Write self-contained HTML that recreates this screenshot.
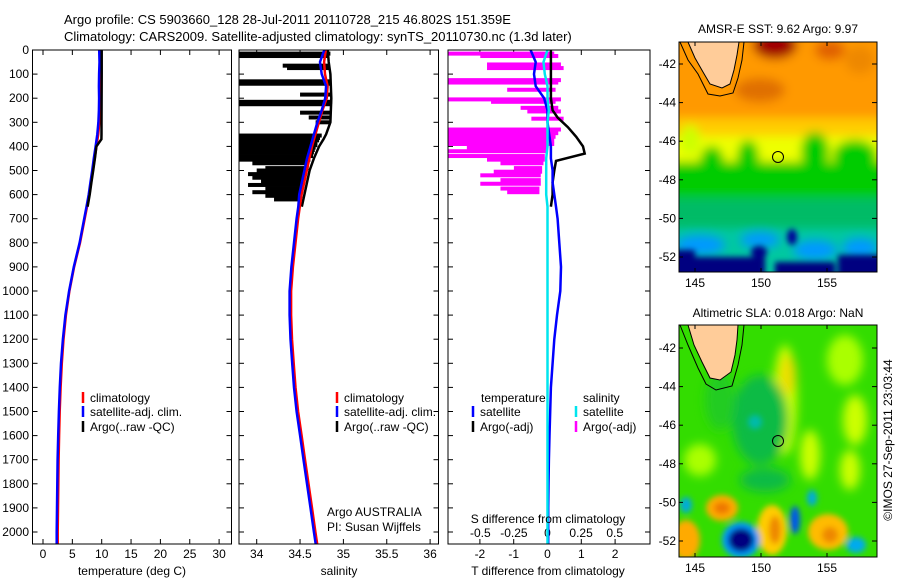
<!DOCTYPE html>
<html><head><meta charset="utf-8">
<style>
html,body{margin:0;padding:0;background:#fff;}
svg{display:block;font-family:"Liberation Sans",sans-serif;}
text{font-size:12px;fill:#000;}
</style></head>
<body>
<svg id="fig" width="900" height="580" viewBox="0 0 900 580" xmlns="http://www.w3.org/2000/svg">
<defs>
  <filter id="blur" x="-20%" y="-20%" width="140%" height="140%"><feGaussianBlur stdDeviation="5"/></filter>
  <filter id="blur2" x="-20%" y="-20%" width="140%" height="140%"><feGaussianBlur stdDeviation="3"/></filter>
  <clipPath id="clipTop"><rect x="679" y="42" width="198" height="230"/></clipPath>
  <clipPath id="clipBot"><rect x="679" y="325" width="198" height="232"/></clipPath>
  <clipPath id="clipP2"><rect x="239" y="50" width="200" height="494"/></clipPath>
  <clipPath id="clipP3"><rect x="448" y="50" width="202" height="494"/></clipPath>
</defs>
<text x="64" y="24" style="font-size:13px">Argo profile: CS 5903660_128 28-Jul-2011 20110728_215 46.802S 151.359E</text>
<text x="64" y="41" style="font-size:13px">Climatology: CARS2009. Satellite-adjusted climatology: synTS_20110730.nc (1.3d later)</text>

<!-- SST map -->
<g clip-path="url(#clipTop)">
  <rect x="679" y="42" width="198" height="230" fill="#00c8a0"/>
  <g filter="url(#blur)">
    <rect x="660" y="20" width="240" height="120" fill="#ff9900"/>
    <ellipse cx="775" cy="45" rx="22" ry="14" fill="#a00000"/>
    <ellipse cx="830" cy="50" rx="15" ry="10" fill="#e06000"/>
    <ellipse cx="760" cy="90" rx="25" ry="12" fill="#e07000"/>
    <ellipse cx="860" cy="60" rx="15" ry="14" fill="#ee8800"/>
    <rect x="660" y="118" width="240" height="20" fill="#ffcc00"/>
    <rect x="660" y="136" width="240" height="30" fill="#eeff00"/>
    <rect x="660" y="162" width="240" height="40" fill="#00cc00"/>
    <ellipse cx="712" cy="162" rx="12" ry="16" fill="#00cc00"/>
    <ellipse cx="748" cy="158" rx="11" ry="18" fill="#00cc00"/>
    <ellipse cx="815" cy="152" rx="14" ry="20" fill="#00cc00"/>
    <ellipse cx="855" cy="156" rx="22" ry="16" fill="#00cc00"/>
    <ellipse cx="690" cy="140" rx="10" ry="15" fill="#ccff00"/>
    <rect x="660" y="198" width="240" height="30" fill="#00bb66"/>
    <ellipse cx="700" cy="245" rx="25" ry="10" fill="#0099ff"/>
    <ellipse cx="760" cy="240" rx="20" ry="8" fill="#0099ff"/>
    <ellipse cx="815" cy="250" rx="22" ry="10" fill="#0099ff"/>
    <ellipse cx="860" cy="248" rx="18" ry="10" fill="#0099ff"/>
  </g>
  <g filter="url(#blur2)">
    <rect x="660" y="257" width="105" height="25" fill="#000080"/>
    <rect x="660" y="250" width="35" height="12" fill="#000080"/>
    <rect x="775" y="262" width="60" height="15" fill="#000080"/>
    <rect x="838" y="255" width="50" height="25" fill="#000080"/>
    <ellipse cx="759" cy="252" rx="8" ry="6" fill="#000088"/>
    <ellipse cx="792" cy="237" rx="5" ry="8" fill="#000099"/>
  </g>
  <path d="M680,42 L688,60 L698,74 L708,94 L720,96 L733,93 L738,78 L742,60 L744,42 Z" fill="none" stroke="#000" stroke-width="1"/>
  <path d="M688,42 L695,58 L703,72 L710,84 L722,88 L730,84 L734,70 L737,55 L739,42 Z" fill="#ffcc99" stroke="#000" stroke-width="1"/>
  <circle cx="778" cy="157" r="5.5" fill="none" stroke="#000" stroke-width="1"/>
</g>
<rect x="679" y="42" width="198" height="230" fill="none" stroke="#000"/>
<text x="778" y="33" text-anchor="middle">AMSR-E SST: 9.62 Argo: 9.97</text>

<!-- SLA map -->
<g clip-path="url(#clipBot)">
  <rect x="679" y="325" width="198" height="232" fill="#33dd00"/>
  <g filter="url(#blur)">
    <ellipse cx="785" cy="400" rx="12" ry="55" fill="#ccff00"/>
    <ellipse cx="788" cy="375" rx="8" ry="20" fill="#eedd00"/>
    <ellipse cx="845" cy="360" rx="18" ry="25" fill="#aaff00"/>
    <ellipse cx="855" cy="420" rx="12" ry="25" fill="#ccff00"/>
    <ellipse cx="700" cy="460" rx="16" ry="16" fill="#aaff00"/>
    <ellipse cx="810" cy="455" rx="10" ry="25" fill="#ccff00"/>
    <ellipse cx="850" cy="470" rx="10" ry="20" fill="#ccff00"/>
    <ellipse cx="760" cy="420" rx="28" ry="45" fill="#11bb44"/>
    <ellipse cx="720" cy="400" rx="15" ry="30" fill="#22cc22"/>
    <ellipse cx="765" cy="480" rx="25" ry="12" fill="#11bb44"/>
  </g>
  <g filter="url(#blur2)">
    <ellipse cx="722" cy="508" rx="16" ry="13" fill="#ffaa00"/>
    <ellipse cx="722" cy="508" rx="8" ry="6" fill="#ee7700"/>
    <ellipse cx="772" cy="530" rx="15" ry="25" fill="#ffcc00"/>
    <ellipse cx="775" cy="530" rx="6" ry="14" fill="#ee8800"/>
    <ellipse cx="828" cy="532" rx="20" ry="18" fill="#ffbb00"/>
    <ellipse cx="830" cy="535" rx="8" ry="8" fill="#ee8800"/>
    <ellipse cx="686" cy="540" rx="14" ry="20" fill="#ffaa00"/>
    <ellipse cx="741" cy="540" rx="19" ry="18" fill="#0099ff"/>
    <ellipse cx="741" cy="540" rx="13" ry="12" fill="#000080"/>
    <ellipse cx="795" cy="520" rx="5" ry="14" fill="#0055ee"/>
    <ellipse cx="812" cy="498" rx="5" ry="8" fill="#00aadd"/>
    <ellipse cx="686" cy="505" rx="6" ry="8" fill="#00aadd"/>
    <ellipse cx="755" cy="422" rx="7" ry="7" fill="#00bbaa"/>
    <ellipse cx="856" cy="545" rx="10" ry="8" fill="#00aaee"/>
  </g>
  <path d="M680,325 L688,345 L698,368 L706,384 L716,390 L732,386 L738,365 L742,345 L744,325 Z" fill="none" stroke="#000" stroke-width="1"/>
  <path d="M688,325 L694,345 L702,362 L710,378 L720,380 L731,372 L735,355 L737,340 L738,325 Z" fill="#ffcc99" stroke="#000" stroke-width="1"/>
  <circle cx="778" cy="441" r="5.5" fill="none" stroke="#000" stroke-width="1"/>
</g>
<rect x="679" y="325" width="198" height="232" fill="none" stroke="#000"/>
<text x="778" y="317" text-anchor="middle">Altimetric SLA: 0.018 Argo: NaN</text>
<text transform="translate(892,440) rotate(-90)" text-anchor="middle">©IMOS 27-Sep-2011 23:03:44</text>

<g id="plots"></g>
</svg>
<script>
// ---------- data ----------
const depths = [0,50,100,150,200,250,300,350,400,450,500,550,600,650,700,800,900,1000,1100,1200,1300,1400,1500,1600,1700,1800,1900,2000,2050];
const climT = [9.9,9.9,9.85,9.8,9.75,9.7,9.6,9.4,9.1,8.8,8.5,8.2,7.9,7.5,7.1,6.3,5.3,4.5,3.9,3.5,3.2,3.0,2.85,2.75,2.65,2.6,2.55,2.5,2.5];
const climS = [34.78,34.76,34.77,34.8,34.79,34.74,34.7,34.66,34.62,34.59,34.56,34.53,34.5,34.48,34.46,34.43,34.4,34.38,34.38,34.39,34.41,34.43,34.46,34.5,34.54,34.58,34.62,34.66,34.68];
const satTdiff = [-0.5,-0.35,-0.4,-0.35,-0.1,0.0,0.0,0.05,0.1,0.1,0.15,0.15,0.2,0.25,0.3,0.35,0.4,0.38,0.28,0.2,0.15,0.1,0.08,0.06,0.04,0.03,0.02,0.02,0.02];
const satSdiff = [0.0,-0.03,-0.02,0.0,0.0,0.01,0.0,0.0,0.0,-0.01,-0.01,-0.01,-0.01,0.0,0.0,0.0,0.0,0.0,0,0,0,0,0,0,0,0,0,0,0];
const argoDepth = [0,50,100,200,300,350,370,400,450,500,550,600,650];
const argoT = [10.0,10.0,10.0,9.98,9.97,9.96,9.95,9.1,8.85,8.55,8.25,7.95,7.6];
const argoS = [34.82,34.83,34.85,34.86,34.85,34.8,34.77,34.72,34.66,34.61,34.58,34.55,34.52];
const argoDiffDepth = [0,50,100,200,250,280,320,360,400,430,460,500,550,600,650];
const argoTdiff = [0.1,0.1,0.1,0.1,0.15,0.3,0.6,0.85,1.05,1.1,0.25,0.2,0.15,0.15,0.1];
const salBarDepth = [15,25,65,75,130,140,185,215,225,260,280,300,355,365,375,385,395,405,415,425,440,455,470,490,500,515,530,545,560,575,590,605,620];
const salBarLow = [33.7,33.7,34.3,34.35,33.7,33.7,34.5,33.7,33.7,34.5,34.6,34.68,33.7,33.7,33.7,33.7,33.7,33.7,33.7,33.7,33.7,33.7,33.95,34.1,34.0,33.9,33.95,34.05,33.9,34.1,33.95,34.1,34.2];
const salBarHigh = [34.85,34.82,34.83,34.85,34.86,34.85,34.86,34.87,34.86,34.86,34.85,34.84,34.75,34.73,34.72,34.7,34.7,34.68,34.67,34.66,34.65,34.62,34.6,34.6,34.58,34.58,34.56,34.55,34.55,34.53,34.53,34.5,34.5];
const magBarDepth = [15,25,60,75,125,135,165,205,215,240,255,285,330,345,360,375,390,405,420,440,455,470,490,505,520,540,555,575,590];
const magBarLow = [-0.8,-0.5,-0.45,-0.45,-0.8,-0.8,-0.3,-0.8,-0.42,-0.2,-0.15,-0.12,-0.8,-0.8,-0.8,-0.8,-0.8,-0.6,-0.8,-0.8,-0.45,-0.35,-0.25,-0.4,-0.5,-0.35,-0.5,-0.35,-0.3];
const magBarHigh = [0.05,0.08,0.1,0.12,0.1,0.08,0.06,0.1,0.06,0.08,0.1,0.12,0.1,0.08,0.06,0.05,0.05,0.0,0.0,-0.02,-0.02,-0.03,-0.04,-0.04,-0.05,-0.05,-0.05,-0.06,-0.06];
const depthTicks = [0,100,200,300,400,500,600,700,800,900,1000,1100,1200,1300,1400,1500,1600,1700,1800,1900,2000];
const tempTicks = [0,5,10,15,20,25,30];
const salTicks = [34,34.5,35,35.5,36];
const tdiffTicks = [-2,-1,0,1,2];
const sdiffTicks = [-0.5,-0.25,0,0.25,0.5];
const latTicks = [-42,-44,-46,-48,-50,-52];
const lonTicks = [145,150,155];

// ---------- scales ----------
const yD = d => 50 + d*0.241;
const xT = t => 43 + t*5.87;
const xS = s => 256.7 + (s-34)*86.7;
const xTd = t => 547.5 + t*33.8;
const xSd = s => 547.5 + s*134.4;
const latTop = v => 64 + (-42 - v)*19.3;
const latBot = v => 348 + (-42 - v)*19.3;
const lonX = v => 695 + (v-145)*13.2;

const NS='http://www.w3.org/2000/svg';
const root=document.getElementById('plots');
function mk(tag,attrs,parent){const e=document.createElementNS(NS,tag);for(const k in attrs)e.setAttribute(k,attrs[k]);(parent||root).appendChild(e);return e;}
function txt(x,y,s,anchor,parent){const e=mk('text',{x:x,y:y,'text-anchor':anchor||'start'},parent);e.textContent=s;return e;}
function poly(xs,ys,color,w,parent,dash){const pts=xs.map((x,i)=>x.toFixed(1)+','+ys[i].toFixed(1)).join(' ');const a={points:pts,fill:'none',stroke:color,'stroke-width':w};if(dash)a['stroke-dasharray']=dash;return mk('polyline',a,parent);}

const panels=[{x0:32.5,x1:231.5,n:'temperature-panel'},{x0:239,x1:438.5,n:'salinity-panel'},{x0:448,x1:650,n:'difference-panel'}];
const pg=[];
panels.forEach(p=>{
  const g=mk('g',{});
  
  
  pg.push(g);
  depthTicks.forEach(d=>{
    const y=yD(d);
    mk('line',{x1:p.x0,y1:y,x2:p.x0+5,y2:y,stroke:'#000'},g);
    mk('line',{x1:p.x1-5,y1:y,x2:p.x1,y2:y,stroke:'#000'},g);
  });
});
depthTicks.forEach(d=>{
  const t=txt(29,yD(d)+4,String(d),'end');
  
  
});
function xticks(g,vals,fx,ytxt){
  vals.forEach(v=>{const x=fx(v);
    mk('line',{x1:x,y1:50,x2:x,y2:55,stroke:'#000'},g);
    mk('line',{x1:x,y1:539,x2:x,y2:544,stroke:'#000'},g);
    if(ytxt){const t=txt(x,ytxt,String(v),'middle',g);
      
      }
  });
}
xticks(pg[0],tempTicks,xT,558);
xticks(pg[1],salTicks,xS,558);
xticks(pg[2],tdiffTicks,xTd,558);
sdiffTicks.forEach(v=>{const t=txt(xSd(v),537,String(v),'middle',pg[2]);
  
  });

const LW=2.5;
const satT = climT.map((t,i)=>t+satTdiff[i]*0.3);
let l;
l=poly(climT.map(xT),depths.map(yD),'#ff0000',LW,pg[0]);


l=poly(satT.map(v=>xT(v)-1),depths.map(yD),'#0000ff',LW,pg[0]);


l=poly(argoT.map(xT),argoDepth.map(yD),'#000',LW,pg[0]);



const g2=mk('g',{'clip-path':'url(#clipP2)'},pg[1]);
salBarDepth.forEach((d,i)=>{
  const x0=xS(salBarLow[i]),x1=xS(salBarHigh[i]);
  const r=mk('rect',{x:x0,y:yD(d)-2,width:x1-x0,height:4,fill:'#000'},g2);
  
  
});
l=poly(argoS.map(xS),argoDepth.map(yD),'#000',LW,g2);


l=poly(climS.map(v=>xS(v)+1.5),depths.map(yD),'#ff0000',LW,g2);


l=poly(climS.map((v,i)=>xS(v+satSdiff[i])),depths.map(yD),'#0000ff',LW,g2);



const g3=mk('g',{'clip-path':'url(#clipP3)'},pg[2]);
magBarDepth.forEach((d,i)=>{
  const x0=xSd(magBarLow[i]),x1=xSd(magBarHigh[i]);
  const r=mk('rect',{x:x0,y:yD(d)-2,width:x1-x0,height:4,fill:'#ff00ff'},g3);
  
  
});
l=poly([xTd(0),xTd(0)],[yD(650),yD(2050)],'#000',1,g3,'1,2');


l=poly(argoTdiff.map(xTd),argoDiffDepth.map(yD),'#000',LW,g3);


l=poly(satTdiff.map(xTd),depths.map(yD),'#0000ff',LW,g3);


l=poly(satSdiff.map(xSd),depths.map(yD),'#00e5ee',LW,g3);



panels.forEach((p,i)=>{mk('rect',{x:p.x0,y:50,width:p.x1-p.x0,height:494,fill:'none',stroke:'#000','stroke-width':1},pg[i]);});

[[132,575,'temperature (deg C)'],[339,575,'salinity'],[548,575,'T difference from climatology']].forEach(a=>{
  const t=txt(a[0],a[1],a[2],'middle');
  
  
});
let t=txt(548,523,'S difference from climatology','middle',pg[2]);


t=txt(327,516,'Argo AUSTRALIA','start',pg[1]);


t=txt(327,531,'PI: Susan Wijffels','start',pg[1]);



function legend(g,x,y,color,label){
  mk('line',{x1:x,y1:y-6,x2:x,y2:y+5,stroke:color,'stroke-width':2.5},g);
  const e=txt(x+7,y+4,label,'start',g);
  
  
}
[[0,83],[1,337]].forEach(([i,x])=>{
  legend(pg[i],x,398,'#ff0000','climatology');
  legend(pg[i],x,412,'#0000ff','satellite-adj. clim.');
  legend(pg[i],x,427,'#000','Argo(..raw -QC)');
});
t=txt(481,402,'temperature','start',pg[2]);


t=txt(583,402,'salinity','start',pg[2]);


legend(pg[2],473,412,'#0000ff','satellite');
legend(pg[2],473,427,'#000','Argo(-adj)');
legend(pg[2],576,412,'#00e5ee','satellite');
legend(pg[2],576,427,'#ff00ff','Argo(-adj)');

[[latTop,42,272],[latBot,325,557]].forEach(([f,y0,y1])=>{
  latTicks.forEach(v=>{const y=f(v);
    mk('line',{x1:872,y1:y,x2:877,y2:y,stroke:'#000'});
    mk('line',{x1:679,y1:y,x2:683,y2:y,stroke:'#000'});
    const e=txt(676,y+4,String(v),'end');
    
    
  });
  lonTicks.forEach(v=>{const x=lonX(v);
    mk('line',{x1:x,y1:y0,x2:x,y2:y0+4,stroke:'#000'});
    mk('line',{x1:x,y1:y1-4,x2:x,y2:y1,stroke:'#000'});
    const e=txt(x,y1+15,String(v),'middle');
    
    
  });
});
</script>
</body></html>
